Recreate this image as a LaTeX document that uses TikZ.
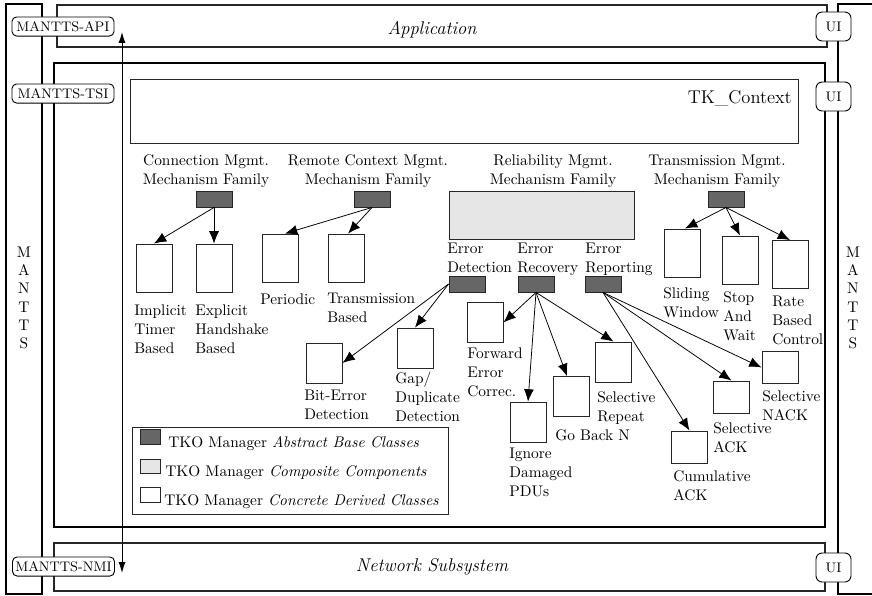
\documentclass[tikz,border=0pt]{standalone}
\usetikzlibrary{arrows.meta,calc}
\definecolor{absfill}{HTML}{666666}
\definecolor{compfill}{HTML}{E6E6E6}
\begin{document}
\begin{tikzpicture}[x=0.65pt,y=-0.65pt,
  every node/.style={font=\fontsize{10pt}{12.35pt}\selectfont},
  frame/.style={line width=1.1pt},
  thinframe/.style={line width=0.8pt, draw=black!85},
  absbox/.style={draw=black!85, fill=absfill, minimum width=23.4pt, minimum height=10.4pt, inner sep=0pt, line width=0.6pt},
  compbox/.style={draw=black!85, fill=compfill, inner sep=0pt, line width=0.6pt},
  conbox/.style={draw=black!85, fill=white, minimum width=23.4pt, inner sep=0pt, line width=0.6pt},
  hA/.style={minimum height=31.2pt},
  hB/.style={minimum height=26pt},
  hC/.style={minimum height=20.8pt},
  lbl/.style={anchor=north west, align=left, inner sep=0pt},
  fam/.style={anchor=north, align=center, inner sep=0pt},
  tag/.style={draw, rounded corners=3pt, fill=white, inner sep=0pt, minimum width=66.3pt, minimum height=12.4pt, font=\small, line width=0.6pt},
  uitag/.style={draw, rounded corners=4pt, fill=white, inner sep=0pt, minimum width=22.75pt, minimum height=18.85pt, font=\small, line width=0.6pt},
  arr/.style={-{Latex[length=8pt,width=6.5pt]}, line width=0.5pt},
  swatch/.style={draw=black!85, minimum width=13pt, minimum height=9.5pt, inner sep=0pt, line width=0.5pt}
]
\useasboundingbox (0,0) rectangle (872,596);

% side columns
\draw[frame] (6,4) rectangle (42,594);
\draw[frame] (880,4) -- (838,4) -- (838,594) -- (880,594);
\node[align=center, font=\fontsize{10pt}{11.9pt}\selectfont] (mleft) at (24,298) {M\\A\\N\\T\\T\\S};
\node[align=center, font=\fontsize{10pt}{11.9pt}\selectfont] (mright) at (853,298) {M\\A\\N\\T\\T\\S};

% layer boxes
\draw[thinframe] (57,5) rectangle (827,47);
\draw[frame] (54,63) rectangle (825,527);
\draw[thinframe] (54,543) rectangle (825,591);
\node[font=\large\itshape] (app) at (432,29.5) {Application};
\node[font=\large\itshape] (net) at (432,566.5) {Network Subsystem};

% interface arrow
\coordinate (atop) at (122,32);
\coordinate (abot) at (122,573);
\draw[{Latex[length=7pt,width=4.5pt]}-{Latex[length=7pt,width=4.5pt]}, line width=0.6pt] (atop) -- (abot);

% interface tags
\node[tag] (api) at (63,26.5) {MANTTS-API};
\node[tag] (tsi) at (63,93.5) {MANTTS-TSI};
\node[tag] (nmi) at (63.5,566.5) {MANTTS-NMI};
\node[uitag] (ui1) at (833.5,26.5) {UI};
\node[uitag] (ui2) at (833.5,96.5) {UI};
\node[uitag] (ui3) at (833.5,567.5) {UI};

% TK context
\node[draw=black!85, line width=0.6pt, minimum width=434.2pt, minimum height=41.6pt, inner sep=0pt] (ctx) at (464,111) {};
\node[anchor=east, font=\large, inner sep=0pt] (ctxt) at (792,98) {TK\_Context};

% family labels
\node[fam] (fcm) at (206,154.4) {Connection Mgmt.\\Mechanism Family};
\node[fam] (frc) at (368,154.4) {Remote Context Mgmt.\\Mechanism Family};
\node[fam] (frl) at (553,154.4) {Reliability Mgmt.\\Mechanism Family};
\node[fam] (ftm) at (717,154.4) {Transmission Mgmt.\\Mechanism Family};

% abstract boxes
\node[absbox] (cm) at (214,199) {};
\node[absbox] (rc) at (372,199) {};
\node[absbox] (tm) at (726,199) {};
\node[compbox, minimum width=120.25pt, minimum height=31.2pt] (rel) at (541.5,215) {};
\node[absbox] (ed) at (467,284) {};
\node[absbox] (er) at (536,284) {};
\node[absbox] (ep) at (603,284) {};
\node[lbl] (led) at (447,242.4) {Error\\Detection};
\node[lbl] (ler) at (517,242.4) {Error\\Recovery};
\node[lbl] (lep) at (585,242.4) {Error\\Reporting};

% concrete boxes
\node[conbox,hA] (impl) at (154,268) {};
\node[conbox,hA] (expl) at (214,268) {};
\node[conbox,hA] (per) at (280,258) {};
\node[conbox,hA] (trans) at (346,258) {};
\node[conbox,hA] (slide) at (682,253) {};
\node[conbox,hA] (stop) at (740,260) {};
\node[conbox,hA] (rate) at (790,264.5) {};
\node[conbox,hB] (bit) at (324,363) {};
\node[conbox,hB] (gap) at (415,348) {};
\node[conbox,hB] (fec) at (485,322.5) {};
\node[conbox,hB] (ign) at (528,422) {};
\node[conbox,hB] (gbn) at (571,396.5) {};
\node[conbox,hB] (srep) at (613.5,362) {};
\node[conbox,hC] (cack) at (689.5,447) {};
\node[conbox,hC] (sack) at (731.5,397) {};
\node[conbox,hC] (snack) at (780,367.5) {};

% concrete labels
\node[lbl] at (134,304.4) {Implicit\\Timer\\Based};
\node[lbl] at (195,304.4) {Explicit\\Handshake\\Based};
\node[lbl] at (260,293.4) {Periodic};
\node[lbl] at (327,292.4) {Transmission\\Based};
\node[lbl] at (663,287.4) {Sliding\\Window};
\node[lbl] at (723,291.4) {Stop\\And\\Wait};
\node[lbl] at (772,295.4) {Rate\\Based\\Control};
\node[lbl] at (304,389.4) {Bit-Error\\Detection};
\node[lbl] at (395,371.5) {Gap/\\Duplicate\\Detection};
\node[lbl] at (467,347.4) {Forward\\Error\\Correc.};
\node[lbl] at (509,447.4) {Ignore\\Damaged\\PDUs};
\node[lbl] at (555,429.4) {Go Back N};
\node[lbl] at (597,391.4) {Selective\\Repeat};
\node[lbl] at (673,470.4) {Cumulative\\ACK};
\node[lbl] at (713,422.4) {Selective\\ACK};
\node[lbl] at (762,390.4) {Selective\\NACK};

% arrows
\draw[arr] (cm.south) -- (impl.north);
\draw[arr] (cm.south) -- (expl.north);
\draw[arr] (rc.south) -- ($(per.north)+(5,0)$);
\draw[arr] (rc.south) -- ($(trans.north)+(2,0)$);
\draw[arr] (tm.south) -- ($(slide.north)+(3,0)$);
\draw[arr] (tm.south) -- (stop.north);
\draw[arr] (tm.south) -- (rate.north);
\draw[arr] (ed.west) -- (bit.east);
\draw[arr] (ed.west) -- (gap.north);
\draw[arr] (er.south) -- (fec.east);
\draw[arr] (er.south) -- (ign.north);
\draw[arr] (er.south) -- ($(gbn.north)+(-4,0)$);
\draw[arr] (er.south) -- (srep.north);
\draw[arr] (ep.south) -- (cack.north);
\draw[arr] (ep.south) -- (sack.north);
\draw[arr] (ep.south) -- (snack.west);

% legend
\node[draw=black!85, line width=0.6pt, minimum width=205.4pt, minimum height=56.55pt, inner sep=0pt] (leg) at (290,470.5) {};
\node[swatch, fill=absfill] (sw1) at (150,437) {};
\node[swatch, fill=compfill] (sw2) at (150,466.5) {};
\node[swatch, fill=white] (sw3) at (150,495) {};
\node[anchor=base west, inner sep=0pt] (lt1) at (168,447) {TKO Manager \textit{Abstract Base Classes}};
\node[anchor=base west, inner sep=0pt] (lt2) at (165,476) {TKO Manager \textit{Composite Components}};
\node[anchor=base west, inner sep=0pt] (lt3) at (164,505) {TKO Manager \textit{Concrete Derived Classes}};
\end{tikzpicture}
\end{document}
